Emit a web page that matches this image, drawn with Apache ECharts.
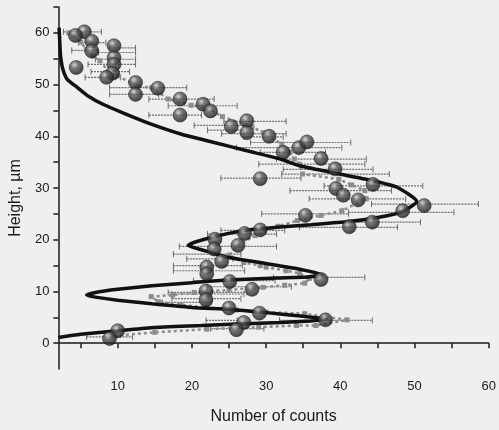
<!DOCTYPE html>
<html>
<head>
<meta charset="utf-8">
<script src="https://cdn.jsdelivr.net/npm/echarts@6/dist/echarts.min.js"></script>
<style>
html, body { margin: 0; padding: 0; background: #efefef; }
#main { width: 499px; height: 430px; }
</style>
</head>
<body>
<div id="main"></div>
<script>
// tick positions
var xTicks = [5, 10, 15, 20, 25, 30, 35, 40, 45, 50, 55, 60];
var xLabels = [10, 20, 30, 40, 50, 60];
var yTicks = [0, 5, 10, 15, 20, 25, 30, 35, 40, 45, 50, 55, 60, 65];
var yLabels = [0, 10, 20, 30, 40, 50, 60];

// measured points (spheres)
var sphereX = [5.5, 4.3, 6.5, 6.5, 4.4, 9.5, 9.5, 9.5, 9.3, 8.5, 12.4, 12.4, 15.4, 18.4, 18.4, 21.5, 22.5, 25.3, 27.4, 27.4,
  30.4, 32.3, 34.4, 35.5, 37.4, 39.3, 39.4, 29.2, 44.4, 40.4, 42.4, 51.3, 48.4, 35.3, 44.3, 41.2, 29.2, 27.1, 23.1, 26.2,
  23.0, 24.0, 22.0, 22.0, 37.4, 25.1, 28.1, 21.9, 21.9, 25.0, 29.1, 27.0, 26.0, 38.0, 10.0, 8.9];
var sphereY = [60.2, 59.5, 58.4, 56.5, 53.3, 57.5, 55.2, 53.9, 52.2, 51.4, 50.4, 48.1, 49.3, 47.2, 44.1, 46.2, 44.9, 41.9, 43.0, 40.7,
  40.0, 36.9, 37.8, 38.9, 35.7, 33.7, 29.9, 31.8, 30.7, 28.6, 27.7, 26.6, 25.6, 24.7, 23.4, 22.5, 21.9, 21.2, 20.1, 18.9,
  18.2, 15.8, 14.7, 13.4, 12.3, 11.9, 10.4, 10.1, 8.4, 6.8, 5.8, 4.0, 2.6, 4.5, 2.4, 0.9];

// gray dotted series
var grayX = [3.4, 4.0, 5.0, 5.8, 6.7, 7.6, 8.9, 10.0, 12.6, 14.6, 16.8, 19.9, 21.9, 24.1, 28.1, 29.6, 32.1, 33.2, 33.8, 34.5,
  34.9, 39.8, 41.5, 43.3, 43.5, 40.2, 37.4, 34.2, 31.6, 28.5, 26.2, 25.0, 27.0, 29.2, 30.0, 32.7, 34.5, 35.8, 35.2, 32.5,
  29.6, 25.0, 20.3, 17.4, 14.5, 15.5, 18.5, 22.0, 26.0, 30.0, 35.2, 40.9, 36.7, 34.1, 29.0, 22.0, 15.0, 9.5];
var grayY = [60.0, 59.5, 58.2, 56.8, 55.5, 54.6, 52.3, 51.7, 49.7, 49.4, 47.2, 46.0, 45.6, 43.8, 41.8, 40.7, 38.5, 36.9, 35.6, 34.6,
  32.7, 31.7, 30.6, 29.5, 27.9, 25.6, 24.7, 23.7, 22.6, 20.8, 18.9, 17.0, 15.6, 15.0, 14.7, 14.0, 13.5, 12.5, 11.6, 11.2,
  10.8, 10.3, 9.8, 9.3, 9.0, 8.0, 7.4, 6.9, 6.4, 6.0, 5.7, 4.5, 3.4, 3.4, 3.1, 2.7, 2.1, 1.4];

// horizontal error bars
var barY = [60.2, 58.1, 56.6, 57.1, 56.2, 54.9, 53.9, 52.5, 51.4, 49.4, 48.1, 47.2, 45.9, 44.1, 42.9, 42.1, 41.2, 40.5, 39.9, 38.8,
  37.8, 36.9, 35.6, 34.6, 33.6, 32.7, 31.9, 30.4, 29.5, 27.9, 26.9, 25.3, 25.0, 23.4, 22.4, 21.8, 21.1, 18.7, 17.2, 16.3,
  15.0, 14.0, 12.7, 12.1, 10.9, 9.8, 9.5, 8.6, 7.9, 4.4, 4.4, 2.8, 1.2];
var barLo = [2.7, 4.7, 3.8, 8.9, 7.4, 7.0, 6.0, 6.4, 5.6, 8.9, 8.9, 14.2, 16.8, 14.2, 24.3, 20.3, 22.1, 24.0, 27.0, 27.9,
  26.0, 29.2, 31.4, 29.0, 32.3, 32.1, 23.9, 37.8, 33.2, 35.8, 44.2, 41.1, 29.4, 41.1, 34.5, 23.9, 22.1, 18.3, 17.5, 19.3,
  17.5, 17.5, 31.0, 20.2, 22.1, 16.8, 17.3, 17.3, 16.0, 31.8, 21.9, 22.5, 5.8];
var barHi = [7.8, 8.4, 7.3, 12.4, 12.4, 12.4, 12.4, 11.6, 10.4, 19.3, 15.5, 23.0, 26.1, 21.3, 32.7, 27.4, 27.4, 32.7, 32.3, 41.4,
  40.2, 38.0, 43.5, 43.3, 44.4, 46.6, 34.7, 51.1, 46.9, 48.8, 58.6, 55.3, 41.1, 50.8, 47.7, 32.5, 31.4, 31.4, 26.6, 25.5,
  26.8, 27.1, 43.3, 31.2, 33.4, 27.4, 27.0, 26.6, 22.6, 44.3, 26.1, 29.7, 12.0];

// thick model curve
var curveX = [2.0, 5.0, 10.0, 14.6, 21.3, 26.1, 32.0, 36.0, 38.2, 35.0, 30.0, 25.2, 20.0, 14.6, 10.0, 7.0, 5.8, 7.0, 10.0, 14.6,
  20.0, 24.8, 31.4, 35.5, 37.6, 34.5, 29.2, 24.8, 21.7, 19.5, 21.7, 27.0, 31.4, 36.0, 41.1, 45.0, 48.1, 50.3, 47.7, 44.4,
  38.9, 34.5, 31.9, 27.4, 23.0, 18.6, 14.6, 11.1, 8.0, 6.0, 4.5, 3.2, 2.6, 2.3, 2.2, 2.1];
var curveY = [1.1, 1.7, 2.4, 3.0, 3.4, 3.7, 4.0, 4.3, 4.6, 5.2, 5.9, 6.5, 6.9, 7.6, 8.3, 8.9, 9.3, 9.8, 10.4, 11.1,
  11.7, 12.2, 12.6, 12.8, 13.2, 14.3, 15.6, 16.6, 17.9, 18.9, 20.1, 21.8, 22.4, 22.9, 23.5, 24.3, 25.3, 27.4, 30.1, 31.4,
  33.0, 34.3, 35.6, 37.2, 38.8, 40.4, 42.3, 44.3, 46.2, 47.8, 49.5, 51.0, 53.0, 55.5, 58.0, 61.0];

function zip(a, b) {
  return a.map(function (v, i) { return [v, b[i]]; });
}

var barData = barY.map(function (y, i) { return [barLo[i], barHi[i], y]; });

var myChart = echarts.init(document.getElementById('main'));

var axisFont = { color: '#1a1a1a', fontFamily: 'Liberation Sans', fontSize: 13 };

var option = {
  backgroundColor: '#efefef',
  animation: false,
  grid: { left: 54, right: 6, top: 7, bottom: 58 },
  xAxis: {
    type: 'value',
    min: 2,
    max: 60,
    name: 'Number of counts',
    nameLocation: 'middle',
    nameGap: 40,
    nameTextStyle: { color: '#1a1a1a', fontFamily: 'Liberation Sans', fontSize: 16 },
    axisLine: { show: true, lineStyle: { color: '#1a1a1a', width: 1.5 } },
    axisTick: { show: true, customValues: xTicks, length: 5, lineStyle: { color: '#1a1a1a', width: 1.5 } },
    axisLabel: Object.assign({ customValues: xLabels, margin: 11 }, axisFont),
    splitLine: { show: false }
  },
  yAxis: {
    type: 'value',
    min: -5,
    max: 65,
    name: 'Height, \u00b5m',
    nameLocation: 'middle',
    nameGap: 34,
    nameTextStyle: { color: '#1a1a1a', fontFamily: 'Liberation Sans', fontSize: 16, padding: [0, 20, 0, 0] },
    axisLine: { show: true, lineStyle: { color: '#1a1a1a', width: 1.5 } },
    axisTick: { show: true, customValues: yTicks, length: 5, lineStyle: { color: '#1a1a1a', width: 1.5 } },
    axisLabel: Object.assign({ customValues: yLabels, margin: 9 }, axisFont),
    splitLine: { show: false }
  },
  series: [
    {
      type: 'custom',
      z: 1,
      clip: true,
      data: barData,
      encode: { x: [0, 1], y: 2 },
      renderItem: function (params, api) {
        var p1 = api.coord([api.value(0), api.value(2)]);
        var p2 = api.coord([api.value(1), api.value(2)]);
        var c = '#6e6e6e';
        return {
          type: 'group',
          children: [
            { type: 'line', shape: { x1: p1[0], y1: p1[1], x2: p2[0], y2: p2[1] }, style: { stroke: c, lineWidth: 1.2, lineDash: [2, 1] } },
            { type: 'line', shape: { x1: p1[0], y1: p1[1] - 3, x2: p1[0], y2: p1[1] + 3 }, style: { stroke: c, lineWidth: 1 } },
            { type: 'line', shape: { x1: p2[0], y1: p2[1] - 3, x2: p2[0], y2: p2[1] + 3 }, style: { stroke: c, lineWidth: 1 } }
          ]
        };
      }
    },
    {
      type: 'line',
      z: 2,
      data: zip(grayX, grayY),
      symbol: 'rect',
      symbolSize: 5,
      itemStyle: { color: '#8c8c8c' },
      lineStyle: { color: '#8c8c8c', width: 2.5, type: [3, 3] }
    },
    {
      type: 'line',
      z: 3,
      data: zip(curveX, curveY),
      smooth: 0.2,
      symbol: 'none',
      lineStyle: { color: '#111', width: 3.5 }
    },
    {
      type: 'scatter',
      z: 4,
      data: zip(sphereX, sphereY),
      symbolSize: 14,
      itemStyle: {
        color: {
          type: 'radial', x: 0.38, y: 0.32, r: 0.7,
          colorStops: [
            { offset: 0, color: '#d0d0d0' },
            { offset: 0.35, color: '#5a5a5a' },
            { offset: 1, color: '#141414' }
          ]
        },
        borderColor: '#111',
        borderWidth: 0.6
      }
    }
  ]
};

myChart.setOption(option);
</script>
</body>
</html>
